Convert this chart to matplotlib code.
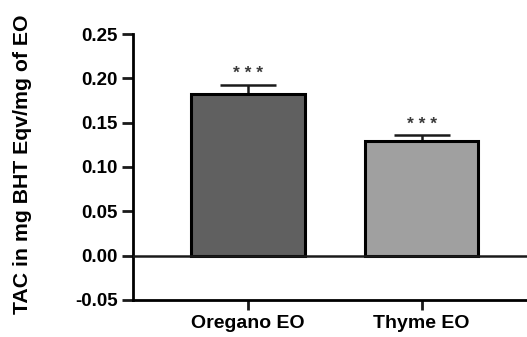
import numpy as np
import matplotlib
matplotlib.use('Agg')
import matplotlib.pyplot as plt

# ── Datos ─────────────────────────────────────────────────────────────────────
groups = ['Oregano EO', 'Thyme EO']
tac_mean = [0.182, 0.129]
tac_err = [0.011, 0.007]
signif = ['***', '***']
bar_colors = ['#606060', '#a0a0a0']
y_ticks = [-0.05, 0.00, 0.05, 0.10, 0.15, 0.20, 0.25]

plt.rcParams['font.family'] = ['Liberation Sans', 'DejaVu Sans']

fig = plt.figure(figsize=(5.27, 3.37), dpi=100)
ax = fig.add_axes([0.252, 0.110, 0.76, 0.789])

x = np.arange(len(groups))
ax.bar(x, tac_mean, width=0.655, color=bar_colors, edgecolor='black',
       linewidth=2.2, zorder=3)
ax.errorbar(x, tac_mean, yerr=[np.zeros(len(x)), tac_err], fmt='none',
            ecolor='#1a1a1a', elinewidth=1.8, capsize=20, capthick=1.8, zorder=2)

# asteriscos espaciados como en el original
for xi, m, e, s in zip(x, tac_mean, tac_err, signif):
    ax.text(xi, m + e + 0.004, ' '.join(s), ha='center', va='bottom',
            fontsize=12.5, fontweight='bold', color='#3a3a3a')

ax.axhline(0, color='#1a1a1a', linewidth=1.8, zorder=4)

ax.set_xlim(-0.661, 1.643)
ax.set_ylim(-0.05, 0.25)
ax.set_yticks(y_ticks)
ax.set_yticklabels([f'{v:.2f}' for v in y_ticks])
ax.set_xticks(x)
ax.set_xticklabels(groups)

for lab in ax.get_yticklabels():
    lab.set_fontweight('bold')
    lab.set_fontsize(13.5)
for lab in ax.get_xticklabels():
    lab.set_fontweight('bold')
    lab.set_fontsize(14)

ax.set_ylabel('TAC in mg BHT Eqv/mg of EO', fontsize=15.3, fontweight='bold')
ax.yaxis.set_label_coords(-0.252, 0.509)

ax.spines['top'].set_visible(False)
ax.spines['right'].set_visible(False)
ax.spines['left'].set_linewidth(2)
ax.spines['bottom'].set_linewidth(2)
ax.tick_params(axis='y', length=8, width=2, color='#1a1a1a', pad=3)
ax.tick_params(axis='x', length=7, width=2, color='#1a1a1a', pad=4)

plt.savefig('out.png', dpi=100, facecolor='white')
